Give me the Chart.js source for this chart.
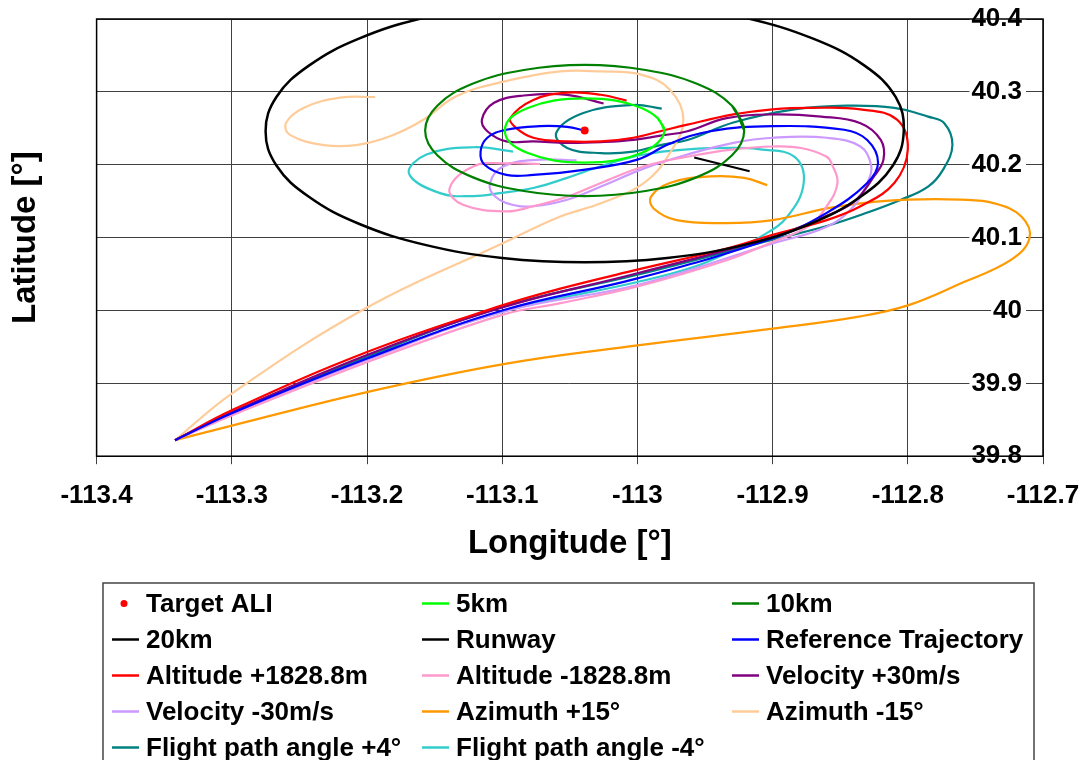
<!DOCTYPE html>
<html>
<head>
<meta charset="utf-8">
<script src="https://cdn.jsdelivr.net/npm/chart.js@4.4.1/dist/chart.umd.min.js"></script>
<style>
  html, body { margin: 0; padding: 0; background: #fff; }
</style>
</head>
<body>
<canvas id="myChart" width="1092" height="760"></canvas>
<script>
// Axes
const xTickValues = [-113.4, -113.3, -113.2, -113.1, -113.0, -112.9, -112.8, -112.7];
const xTickLabels = ['-113.4', '-113.3', '-113.2', '-113.1', '-113', '-112.9', '-112.8', '-112.7'];
const yTickValues = [39.8, 39.9, 40.0, 40.1, 40.2, 40.3, 40.4];
const yTickLabels = ['39.8', '39.9', '40', '40.1', '40.2', '40.3', '40.4'];

// [longitude, latitude]
const targetAli = [[-113.039, 40.247]];

const circle5km = [
  [-112.980, 40.247], [-112.985, 40.264], [-112.997, 40.278], [-113.016, 40.288],
  [-113.039, 40.291], [-113.062, 40.288], [-113.081, 40.278], [-113.094, 40.264],
  [-113.098, 40.247], [-113.094, 40.230], [-113.081, 40.216], [-113.062, 40.206],
  [-113.039, 40.203], [-113.016, 40.206], [-112.997, 40.216], [-112.985, 40.230],
  [-112.980, 40.247], [-112.985, 40.264]
];
const circle10km = [
  [-112.921, 40.247], [-112.930, 40.281], [-112.956, 40.311], [-112.994, 40.330],
  [-113.039, 40.337], [-113.084, 40.330], [-113.122, 40.311], [-113.148, 40.281],
  [-113.157, 40.247], [-113.148, 40.213], [-113.122, 40.183], [-113.084, 40.164],
  [-113.039, 40.157], [-112.994, 40.164], [-112.956, 40.183], [-112.930, 40.213],
  [-112.921, 40.247], [-112.930, 40.281]
];
// starts and ends above the plot, where it is clipped
const circle20km = [
  [-113.039, 40.426], [-113.100, 40.420], [-113.157, 40.402], [-113.206, 40.373],
  [-113.243, 40.336], [-113.267, 40.293], [-113.275, 40.246], [-113.267, 40.199],
  [-113.243, 40.156], [-113.206, 40.119], [-113.157, 40.090], [-113.100, 40.072],
  [-113.039, 40.066], [-112.978, 40.072], [-112.921, 40.090], [-112.872, 40.119],
  [-112.835, 40.156], [-112.811, 40.199], [-112.803, 40.246], [-112.809, 40.293],
  [-112.832, 40.336], [-112.870, 40.373], [-112.921, 40.402], [-112.978, 40.420],
  [-113.039, 40.426]
];
const runway = [[-112.958, 40.210], [-112.917, 40.191]];

const refTraj = [
  [-113.342, 39.822], [-113.300, 39.859], [-113.200, 39.934], [-113.100, 40.000],
  [-113.000, 40.044], [-112.900, 40.099], [-112.860, 40.134], [-112.830, 40.175],
  [-112.822, 40.203], [-112.830, 40.234], [-112.847, 40.248], [-112.900, 40.253],
  [-112.946, 40.246], [-112.976, 40.229], [-113.000, 40.207], [-113.040, 40.193],
  [-113.077, 40.186], [-113.097, 40.186], [-113.113, 40.200], [-113.116, 40.218],
  [-113.111, 40.237], [-113.097, 40.248], [-113.072, 40.253], [-113.052, 40.252],
  [-113.039, 40.247]
];
const altPlus = [
  [-113.342, 39.822], [-113.300, 39.863], [-113.200, 39.943], [-113.100, 40.007],
  [-113.057, 40.030], [-113.000, 40.056], [-112.934, 40.085], [-112.900, 40.104],
  [-112.860, 40.124], [-112.835, 40.143], [-112.810, 40.175], [-112.800, 40.221],
  [-112.808, 40.262], [-112.835, 40.276], [-112.872, 40.278], [-112.900, 40.276],
  [-112.929, 40.269], [-112.963, 40.255], [-112.983, 40.246], [-113.003, 40.237],
  [-113.027, 40.232], [-113.052, 40.232], [-113.077, 40.237], [-113.090, 40.251],
  [-113.094, 40.264], [-113.077, 40.289], [-113.052, 40.299], [-113.027, 40.296],
  [-113.008, 40.288]
];
const altMinus = [
  [-113.342, 39.822], [-113.300, 39.856], [-113.200, 39.929], [-113.100, 39.994],
  [-113.057, 40.010], [-113.000, 40.033], [-112.934, 40.069], [-112.900, 40.094],
  [-112.874, 40.115], [-112.860, 40.143], [-112.852, 40.175], [-112.856, 40.200],
  [-112.860, 40.211], [-112.879, 40.223], [-112.900, 40.225], [-112.929, 40.221],
  [-112.963, 40.211], [-112.995, 40.198], [-113.027, 40.175], [-113.052, 40.156],
  [-113.077, 40.143], [-113.097, 40.136], [-113.129, 40.145], [-113.139, 40.167],
  [-113.121, 40.198], [-113.097, 40.202], [-113.072, 40.201]
];
const velPlus = [
  [-113.342, 39.822], [-113.300, 39.860], [-113.200, 39.939], [-113.100, 40.004],
  [-113.000, 40.051], [-112.900, 40.101], [-112.860, 40.130], [-112.840, 40.149],
  [-112.825, 40.184], [-112.818, 40.207], [-112.820, 40.234], [-112.835, 40.257],
  [-112.864, 40.266], [-112.900, 40.269], [-112.934, 40.264], [-112.963, 40.246],
  [-112.983, 40.240], [-113.003, 40.234], [-113.027, 40.231], [-113.052, 40.230],
  [-113.077, 40.232], [-113.097, 40.232], [-113.111, 40.246], [-113.115, 40.262],
  [-113.106, 40.285], [-113.084, 40.295], [-113.052, 40.296], [-113.025, 40.284]
];
const velMinus = [
  [-113.342, 39.822], [-113.300, 39.858], [-113.200, 39.932], [-113.100, 39.998],
  [-113.000, 40.035], [-112.900, 40.092], [-112.860, 40.115], [-112.840, 40.143],
  [-112.830, 40.175], [-112.827, 40.198], [-112.835, 40.225], [-112.860, 40.237],
  [-112.900, 40.237], [-112.929, 40.230], [-112.963, 40.214], [-112.995, 40.195],
  [-113.027, 40.170], [-113.052, 40.152], [-113.077, 40.143], [-113.090, 40.144],
  [-113.105, 40.156], [-113.109, 40.175], [-113.099, 40.198], [-113.072, 40.207],
  [-113.045, 40.206]
];
const azPlus = [
  [-113.342, 39.822], [-113.300, 39.842], [-113.200, 39.888], [-113.100, 39.926],
  [-113.000, 39.952], [-112.900, 39.975], [-112.835, 39.992], [-112.800, 40.007],
  [-112.761, 40.037], [-112.724, 40.069], [-112.710, 40.099], [-112.716, 40.129],
  [-112.736, 40.147], [-112.761, 40.152], [-112.800, 40.152], [-112.835, 40.147],
  [-112.860, 40.140], [-112.900, 40.124], [-112.934, 40.120], [-112.971, 40.124],
  [-112.988, 40.140], [-112.990, 40.156], [-112.976, 40.175], [-112.946, 40.184],
  [-112.921, 40.182], [-112.904, 40.172]
];
const azMinus = [
  [-113.342, 39.822], [-113.300, 39.886], [-113.200, 40.004], [-113.100, 40.092],
  [-113.057, 40.129], [-113.027, 40.147], [-112.995, 40.175], [-112.976, 40.216],
  [-112.966, 40.262], [-112.976, 40.303], [-112.998, 40.324], [-113.027, 40.328],
  [-113.057, 40.328], [-113.099, 40.314], [-113.134, 40.294], [-113.158, 40.262],
  [-113.183, 40.239], [-113.208, 40.227], [-113.232, 40.227], [-113.257, 40.241],
  [-113.260, 40.257], [-113.247, 40.278], [-113.220, 40.292], [-113.194, 40.293]
];
const fpaPlus = [
  [-113.342, 39.822], [-113.300, 39.860], [-113.200, 39.937], [-113.100, 40.005],
  [-113.000, 40.049], [-112.900, 40.097], [-112.860, 40.116], [-112.835, 40.131],
  [-112.805, 40.152], [-112.785, 40.170], [-112.774, 40.193], [-112.767, 40.227],
  [-112.773, 40.257], [-112.785, 40.266], [-112.810, 40.278], [-112.845, 40.281],
  [-112.884, 40.276], [-112.929, 40.258], [-112.963, 40.234], [-112.983, 40.227],
  [-113.003, 40.218], [-113.027, 40.216], [-113.052, 40.223], [-113.060, 40.244],
  [-113.040, 40.271], [-113.003, 40.282], [-112.982, 40.277]
];
const fpaMinus = [
  [-113.342, 39.822], [-113.300, 39.858], [-113.200, 39.934], [-113.100, 39.998],
  [-113.000, 40.039], [-112.958, 40.060], [-112.929, 40.083], [-112.909, 40.101],
  [-112.889, 40.129], [-112.877, 40.175], [-112.884, 40.211], [-112.909, 40.221],
  [-112.929, 40.223], [-112.963, 40.221], [-112.995, 40.214], [-113.027, 40.198],
  [-113.052, 40.182], [-113.077, 40.168], [-113.102, 40.161], [-113.121, 40.157],
  [-113.146, 40.161], [-113.169, 40.188], [-113.156, 40.214], [-113.121, 40.224],
  [-113.092, 40.218]
];

const seriesLabels = ['Target ALI', '5km', '10km', '20km', 'Runway', 'Reference Trajectory',
  'Altitude +1828.8m', 'Altitude -1828.8m', 'Velocity +30m/s', 'Velocity -30m/s',
  'Azimuth +15°', 'Azimuth -15°', 'Flight path angle +4°', 'Flight path angle -4°'];
const seriesColors = ['#FF0000', '#00FF00', '#008000', '#000000', '#000000', '#0000FF',
  '#FF0000', '#FF99CC', '#800080', '#CC99FF', '#FF9900', '#FFCC99', '#008080', '#33CCCC'];
const seriesData = [targetAli, circle5km, circle10km, circle20km, runway, refTraj,
  altPlus, altMinus, velPlus, velMinus, azPlus, azMinus, fpaPlus, fpaMinus];

const FONT = '"Liberation Sans", Arial, sans-serif';
Chart.defaults.font.family = FONT;
Chart.defaults.color = '#000';

const datasets = seriesData.map((pts, i) => {
    const isPoint = i === 0;
    return {
        label: seriesLabels[i],
        data: pts.map(p => ({ x: p[0], y: p[1] })),
        showLine: !isPoint,
        borderColor: seriesColors[i],
        backgroundColor: seriesColors[i],
        borderWidth: i === 3 ? 2.5 : 2.2,
        pointRadius: isPoint ? 4 : 0,
        pointBorderWidth: 0,
        tension: i === 4 ? 0 : 0.4
    };
});

// frame round the plot area
const framePlugin = {
    id: 'frame',
    afterDatasetsDraw(chart) {
        const { ctx, chartArea: a } = chart;
        ctx.save();
        ctx.strokeStyle = '#000';
        ctx.lineWidth = 1.5;
        ctx.strokeRect(a.left, a.top, a.right - a.left, a.bottom - a.top);
        ctx.restore();
    }
};

// legend in a 3 column grid, like the original
const gridLegend = {
    id: 'gridLegend',
    afterDraw(chart) {
        const ctx = chart.ctx;
        const colX = [112, 422, 732];
        const rowY0 = 603.5, rowH = 36;
        ctx.save();
        ctx.fillStyle = '#fff';
        ctx.fillRect(103, 583, 931, 190);
        ctx.strokeStyle = '#444';
        ctx.lineWidth = 1.5;
        ctx.strokeRect(103, 583, 931, 190);
        ctx.font = 'bold 26px ' + FONT;
        ctx.textBaseline = 'middle';
        chart.data.datasets.forEach((ds, i) => {
            const x = colX[i % 3];
            const y = rowY0 + Math.floor(i / 3) * rowH;
            if (ds.showLine) {
                ctx.strokeStyle = ds.borderColor;
                ctx.lineWidth = 2.5;
                ctx.beginPath();
                ctx.moveTo(x, y);
                ctx.lineTo(x + 27, y);
                ctx.stroke();
            } else {
                ctx.fillStyle = ds.backgroundColor;
                ctx.beginPath();
                ctx.arc(x + 12, y, 3.5, 0, Math.PI * 2);
                ctx.fill();
            }
            ctx.fillStyle = '#000';
            ctx.fillText(ds.label, x + 34, y + 1);
        });
        ctx.restore();
    }
};

const ctx = document.getElementById('myChart').getContext('2d');
const myChart = new Chart(ctx, {
    type: 'scatter',
    data: { datasets: datasets },
    options: {
        responsive: false,
        animation: false,
        layout: { padding: { top: 19, right: 49, bottom: 196, left: 0 } },
        elements: { line: { capBezierPoints: false } },
        scales: {
            x: {
                type: 'linear',
                position: 'bottom',
                min: -113.4,
                max: -112.7,
                afterBuildTicks: s => { s.ticks = xTickValues.map(v => ({ value: v })); },
                afterFit: s => { s.paddingRight = 40; },
                ticks: {
                    callback: (v, i) => xTickLabels[i],
                    font: { size: 26, weight: 'bold' },
                    color: '#000',
                    padding: 16,
                    maxRotation: 0,
                    autoSkip: false
                },
                grid: { color: '#404040', lineWidth: 1, tickLength: 8, tickColor: '#404040' },
                border: { display: false },
                title: {
                    display: true,
                    text: 'Longitude [°]',
                    font: { size: 33, weight: 'bold' },
                    color: '#000',
                    padding: { top: -3, bottom: 0 }
                }
            },
            y: {
                type: 'linear',
                position: 'right',
                min: 39.8,
                max: 40.4,
                afterBuildTicks: s => { s.ticks = yTickValues.map(v => ({ value: v })); },
                afterFit: s => { s.width = 0; },
                ticks: {
                    callback: (v, i) => yTickLabels[i],
                    mirror: true,
                    padding: -21,
                    font: { size: 26, weight: 'bold' },
                    color: '#000',
                    showLabelBackdrop: true,
                    backdropColor: '#fff',
                    backdropPadding: { top: 0, bottom: 0, left: 2, right: 4 },
                    autoSkip: false
                },
                grid: { color: '#404040', lineWidth: 1, drawTicks: false },
                border: { display: false }
            },
            yl: {
                type: 'linear',
                position: 'left',
                min: 39.8,
                max: 40.4,
                ticks: { display: false },
                grid: { display: false, drawTicks: false },
                border: { display: false },
                title: {
                    display: true,
                    text: 'Latitude [°]',
                    font: { size: 33, weight: 'bold' },
                    color: '#000',
                    padding: { top: 6, bottom: 51 }
                }
            }
        },
        plugins: {
            legend: { display: false },
            tooltip: { enabled: false }
        }
    },
    plugins: [framePlugin, gridLegend]
});
</script>
</body>
</html>
